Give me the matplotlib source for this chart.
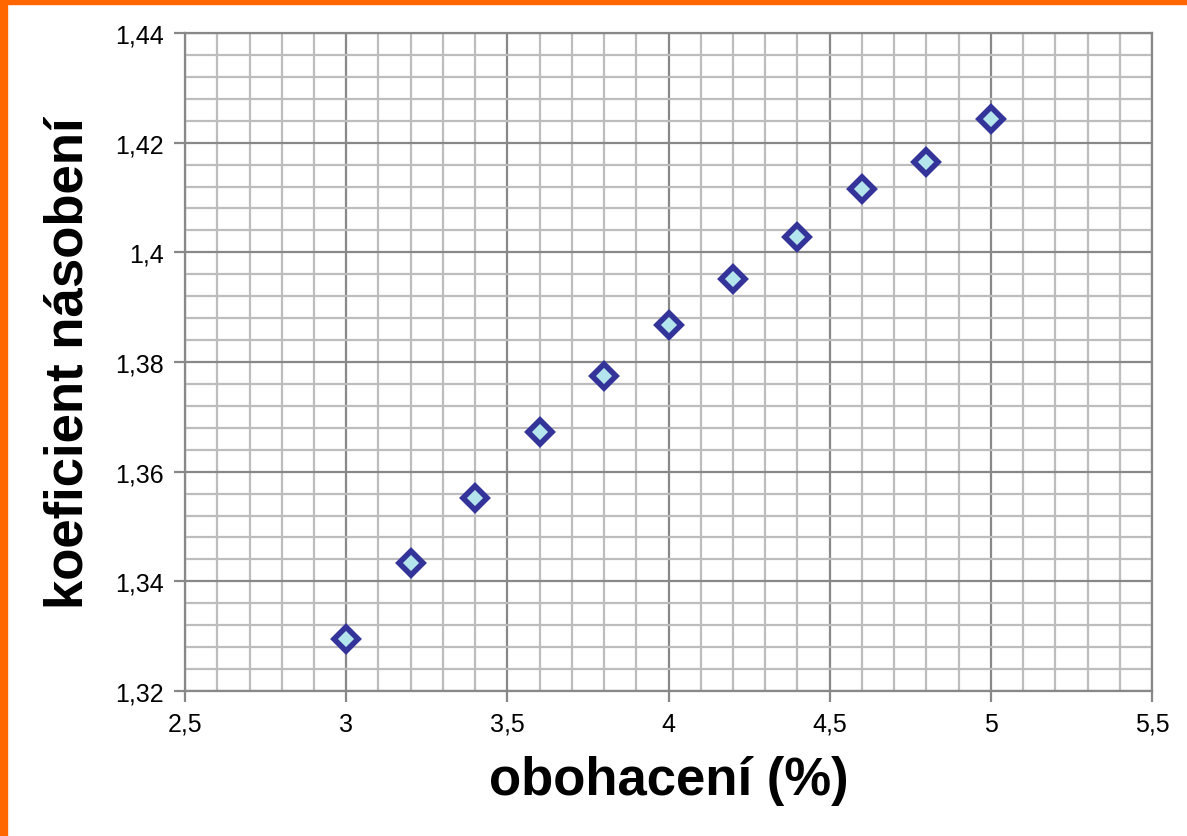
import matplotlib.pyplot as plt
from matplotlib.patches import Rectangle
from matplotlib.ticker import MultipleLocator, FuncFormatter

# enrichment (%) vs. multiplication factor
obohaceni = [3.0, 3.2, 3.4, 3.6, 3.8, 4.0, 4.2, 4.4, 4.6, 4.8, 5.0]
koeficient = [1.3295, 1.3433, 1.3552, 1.3672, 1.3775, 1.3868,
              1.3951, 1.4028, 1.4116, 1.4165, 1.4243]

plt.rcParams['font.family'] = ['Liberation Sans', 'DejaVu Sans']


def comma(v, pos):
    return f"{v:.10g}".replace('.', ',')


fig = plt.figure(figsize=(11.87, 8.37), dpi=100)
ax = fig.add_axes([0.1559, 0.1732, 0.8146, 0.7862])

ax.plot(obohaceni, koeficient, linestyle='none', marker='D', markersize=12,
        markerfacecolor='#b4e4ec', markeredgecolor='#333399',
        markeredgewidth=4, zorder=3)

ax.set_xlim(2.5, 5.5)
ax.set_ylim(1.32, 1.44)
ax.xaxis.set_major_locator(MultipleLocator(0.5))
ax.xaxis.set_minor_locator(MultipleLocator(0.1))
ax.yaxis.set_major_locator(MultipleLocator(0.02))
ax.yaxis.set_minor_locator(MultipleLocator(0.004))
ax.xaxis.set_major_formatter(FuncFormatter(comma))
ax.yaxis.set_major_formatter(FuncFormatter(comma))

ax.grid(which='major', color='#888888', linewidth=1.6)
ax.grid(which='minor', color='#bdbdbd', linewidth=1.6)
ax.set_axisbelow(True)
ax.tick_params(which='major', length=8, width=1.6, color='#888888',
               labelsize=18, pad=7)
ax.tick_params(which='minor', length=0)
for s in ax.spines.values():
    s.set_color('#888888')
    s.set_linewidth(1.6)

ax.set_xlabel('obohacení (%)', fontsize=38, fontweight='bold', labelpad=14)
ax.set_ylabel('koeficient násobení', fontsize=38, fontweight='bold', labelpad=16)

# orange frame along top and left edge
fig.patches.append(Rectangle((0, 1 - 5 / 837), 1, 5 / 837,
                             transform=fig.transFigure, color='#ff6600'))
fig.patches.append(Rectangle((0, 0), 7 / 1187, 1,
                             transform=fig.transFigure, color='#ff6600'))

fig.savefig('out.png', dpi=100)
